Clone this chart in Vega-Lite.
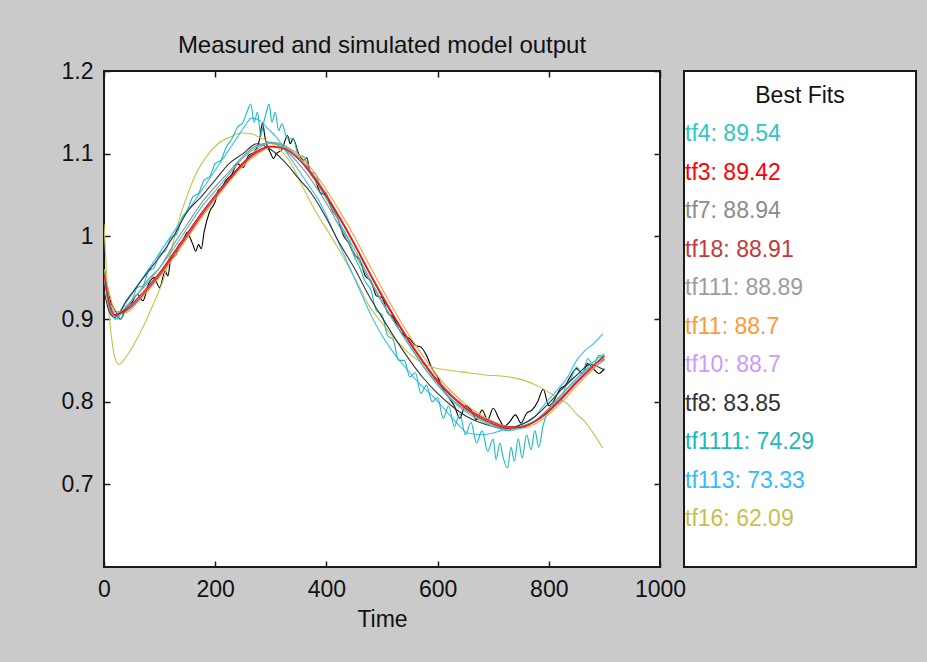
{
"$schema": "https://vega.github.io/schema/vega-lite/v6.json",
"background": "#cacaca",
"padding": {"left": 60, "top": 33, "right": 11, "bottom": 40},
"bounds": "flush",
"spacing": 24,
"config": {
  "font": "Liberation Sans",
  "view": {"stroke": "#1a1a1a", "strokeWidth": 2, "fill": "#ffffff"},
  "axis": {"domain": false, "grid": false, "labelFont": "Liberation Sans", "labelFontSize": 23, "labelColor": "#111111", "tickColor": "#1a1a1a", "tickWidth": 1.5, "titleFont": "Liberation Sans", "titleFontSize": 23, "titleFontWeight": "normal", "titleColor": "#111111", "labelFlush": false, "labelOverlap": false},
  "title": {"font": "Liberation Sans", "fontSize": 24, "fontWeight": "normal", "color": "#111111"}
},
"datasets": {
"lines": [
{"s":"measured","t":0,"v":0.965},{"s":"measured","t":5,"v":0.94},{"s":"measured","t":10,"v":0.925},{"s":"measured","t":20,"v":0.91},{"s":"measured","t":30,"v":0.9},{"s":"measured","t":40,"v":0.915},{"s":"measured","t":50,"v":0.92},{"s":"measured","t":60,"v":0.93},{"s":"measured","t":70,"v":0.922},{"s":"measured","t":80,"v":0.942},{"s":"measured","t":90,"v":0.95},{"s":"measured","t":100,"v":0.938},{"s":"measured","t":110,"v":0.958},{"s":"measured","t":115,"v":0.952},{"s":"measured","t":120,"v":0.972},{"s":"measured","t":130,"v":0.978},{"s":"measured","t":135,"v":0.99},{"s":"measured","t":140,"v":0.992},{"s":"measured","t":150,"v":1.005},{"s":"measured","t":155,"v":0.998},{"s":"measured","t":160,"v":0.99},{"s":"measured","t":165,"v":0.982},{"s":"measured","t":170,"v":0.99},{"s":"measured","t":175,"v":0.985},{"s":"measured","t":180,"v":1.005},{"s":"measured","t":190,"v":1.03},{"s":"measured","t":200,"v":1.042},{"s":"measured","t":205,"v":1.055},{"s":"measured","t":210,"v":1.058},{"s":"measured","t":220,"v":1.068},{"s":"measured","t":230,"v":1.075},{"s":"measured","t":240,"v":1.088},{"s":"measured","t":250,"v":1.083},{"s":"measured","t":260,"v":1.098},{"s":"measured","t":270,"v":1.102},{"s":"measured","t":280,"v":1.118},{"s":"measured","t":285,"v":1.137},{"s":"measured","t":290,"v":1.118},{"s":"measured","t":300,"v":1.1},{"s":"measured","t":305,"v":1.094},{"s":"measured","t":310,"v":1.1},{"s":"measured","t":320,"v":1.105},{"s":"measured","t":330,"v":1.122},{"s":"measured","t":335,"v":1.112},{"s":"measured","t":340,"v":1.118},{"s":"measured","t":350,"v":1.1},{"s":"measured","t":360,"v":1.092},{"s":"measured","t":365,"v":1.095},{"s":"measured","t":370,"v":1.078},{"s":"measured","t":380,"v":1.068},{"s":"measured","t":390,"v":1.052},{"s":"measured","t":400,"v":1.05},{"s":"measured","t":410,"v":1.032},{"s":"measured","t":420,"v":1.022},{"s":"measured","t":430,"v":1.002},{"s":"measured","t":440,"v":0.992},{"s":"measured","t":450,"v":0.978},{"s":"measured","t":460,"v":0.972},{"s":"measured","t":470,"v":0.952},{"s":"measured","t":480,"v":0.946},{"s":"measured","t":490,"v":0.928},{"s":"measured","t":500,"v":0.926},{"s":"measured","t":510,"v":0.908},{"s":"measured","t":520,"v":0.902},{"s":"measured","t":530,"v":0.888},{"s":"measured","t":540,"v":0.88},{"s":"measured","t":550,"v":0.876},{"s":"measured","t":560,"v":0.868},{"s":"measured","t":570,"v":0.866},{"s":"measured","t":580,"v":0.856},{"s":"measured","t":590,"v":0.84},{"s":"measured","t":600,"v":0.83},{"s":"measured","t":610,"v":0.815},{"s":"measured","t":620,"v":0.805},{"s":"measured","t":630,"v":0.795},{"s":"measured","t":640,"v":0.78},{"s":"measured","t":650,"v":0.795},{"s":"measured","t":660,"v":0.79},{"s":"measured","t":670,"v":0.778},{"s":"measured","t":680,"v":0.79},{"s":"measured","t":690,"v":0.778},{"s":"measured","t":700,"v":0.792},{"s":"measured","t":710,"v":0.78},{"s":"measured","t":720,"v":0.77},{"s":"measured","t":730,"v":0.776},{"s":"measured","t":740,"v":0.784},{"s":"measured","t":750,"v":0.774},{"s":"measured","t":760,"v":0.786},{"s":"measured","t":770,"v":0.79},{"s":"measured","t":780,"v":0.8},{"s":"measured","t":790,"v":0.815},{"s":"measured","t":800,"v":0.795},{"s":"measured","t":810,"v":0.802},{"s":"measured","t":820,"v":0.815},{"s":"measured","t":830,"v":0.82},{"s":"measured","t":840,"v":0.832},{"s":"measured","t":850,"v":0.84},{"s":"measured","t":860,"v":0.834},{"s":"measured","t":870,"v":0.846},{"s":"measured","t":880,"v":0.84},{"s":"measured","t":890,"v":0.834},{"s":"measured","t":900,"v":0.84},

{"s":"tf16","t":0,"v":1.015},{"s":"tf16","t":5,"v":0.95},{"s":"tf16","t":10,"v":0.9},{"s":"tf16","t":15,"v":0.87},{"s":"tf16","t":20,"v":0.852},{"s":"tf16","t":27,"v":0.845},{"s":"tf16","t":35,"v":0.85},{"s":"tf16","t":50,"v":0.865},{"s":"tf16","t":70,"v":0.89},{"s":"tf16","t":90,"v":0.92},{"s":"tf16","t":108,"v":0.95},{"s":"tf16","t":120,"v":0.98},{"s":"tf16","t":135,"v":1.02},{"s":"tf16","t":150,"v":1.05},{"s":"tf16","t":165,"v":1.075},{"s":"tf16","t":185,"v":1.097},{"s":"tf16","t":205,"v":1.112},{"s":"tf16","t":230,"v":1.121},{"s":"tf16","t":246,"v":1.125},{"s":"tf16","t":264,"v":1.124},{"s":"tf16","t":285,"v":1.118},{"s":"tf16","t":310,"v":1.108},{"s":"tf16","t":331,"v":1.094},{"s":"tf16","t":350,"v":1.07},{"s":"tf16","t":367,"v":1.047},{"s":"tf16","t":385,"v":1.025},{"s":"tf16","t":403,"v":1.006},{"s":"tf16","t":430,"v":0.975},{"s":"tf16","t":457,"v":0.942},{"s":"tf16","t":475,"v":0.918},{"s":"tf16","t":500,"v":0.895},{"s":"tf16","t":520,"v":0.878},{"s":"tf16","t":534,"v":0.868},{"s":"tf16","t":560,"v":0.852},{"s":"tf16","t":594,"v":0.841},{"s":"tf16","t":620,"v":0.838},{"s":"tf16","t":654,"v":0.835},{"s":"tf16","t":690,"v":0.832},{"s":"tf16","t":714,"v":0.831},{"s":"tf16","t":750,"v":0.827},{"s":"tf16","t":786,"v":0.817},{"s":"tf16","t":810,"v":0.807},{"s":"tf16","t":834,"v":0.797},{"s":"tf16","t":850,"v":0.785},{"s":"tf16","t":863,"v":0.777},{"s":"tf16","t":880,"v":0.762},{"s":"tf16","t":897,"v":0.744},

{"s":"tf113","t":0,"v":0.955},{"s":"tf113","t":10,"v":0.915},{"s":"tf113","t":20,"v":0.905},{"s":"tf113","t":30,"v":0.91},{"s":"tf113","t":40,"v":0.92},{"s":"tf113","t":60,"v":0.94},{"s":"tf113","t":80,"v":0.96},{"s":"tf113","t":100,"v":0.98},{"s":"tf113","t":120,"v":1.0},{"s":"tf113","t":140,"v":1.02},{"s":"tf113","t":160,"v":1.04},{"s":"tf113","t":180,"v":1.06},{"s":"tf113","t":200,"v":1.08},{"s":"tf113","t":220,"v":1.1},{"s":"tf113","t":240,"v":1.12},{"s":"tf113","t":255,"v":1.135},{"s":"tf113","t":265,"v":1.143},{"s":"tf113","t":280,"v":1.14},{"s":"tf113","t":295,"v":1.13},{"s":"tf113","t":310,"v":1.12},{"s":"tf113","t":330,"v":1.1},{"s":"tf113","t":350,"v":1.08},{"s":"tf113","t":370,"v":1.06},{"s":"tf113","t":385,"v":1.045},{"s":"tf113","t":400,"v":1.025},{"s":"tf113","t":420,"v":0.995},{"s":"tf113","t":440,"v":0.965},{"s":"tf113","t":460,"v":0.935},{"s":"tf113","t":480,"v":0.905},{"s":"tf113","t":500,"v":0.88},{"s":"tf113","t":520,"v":0.86},{"s":"tf113","t":534,"v":0.848},{"s":"tf113","t":550,"v":0.835},{"s":"tf113","t":570,"v":0.82},{"s":"tf113","t":594,"v":0.805},{"s":"tf113","t":620,"v":0.785},{"s":"tf113","t":640,"v":0.77},{"s":"tf113","t":654,"v":0.762},{"s":"tf113","t":680,"v":0.76},{"s":"tf113","t":700,"v":0.762},{"s":"tf113","t":714,"v":0.765},{"s":"tf113","t":740,"v":0.77},{"s":"tf113","t":760,"v":0.775},{"s":"tf113","t":773,"v":0.78},{"s":"tf113","t":790,"v":0.795},{"s":"tf113","t":810,"v":0.81},{"s":"tf113","t":834,"v":0.83},{"s":"tf113","t":850,"v":0.85},{"s":"tf113","t":864,"v":0.861},{"s":"tf113","t":880,"v":0.87},{"s":"tf113","t":897,"v":0.882},

{"s":"tf1111","t":0,"v":0.96},{"s":"tf1111","t":10,"v":0.92},{"s":"tf1111","t":20,"v":0.9},{"s":"tf1111","t":30,"v":0.9},{"s":"tf1111","t":40,"v":0.912},{"s":"tf1111","t":50,"v":0.922},{"s":"tf1111","t":60,"v":0.938},{"s":"tf1111","t":70,"v":0.94},{"s":"tf1111","t":80,"v":0.958},{"s":"tf1111","t":90,"v":0.962},{"s":"tf1111","t":100,"v":0.978},{"s":"tf1111","t":110,"v":0.982},{"s":"tf1111","t":120,"v":0.998},{"s":"tf1111","t":130,"v":1.002},{"s":"tf1111","t":140,"v":1.022},{"s":"tf1111","t":150,"v":1.032},{"s":"tf1111","t":160,"v":1.048},{"s":"tf1111","t":170,"v":1.052},{"s":"tf1111","t":180,"v":1.068},{"s":"tf1111","t":190,"v":1.072},{"s":"tf1111","t":200,"v":1.088},{"s":"tf1111","t":210,"v":1.092},{"s":"tf1111","t":220,"v":1.108},{"s":"tf1111","t":230,"v":1.118},{"s":"tf1111","t":240,"v":1.132},{"s":"tf1111","t":250,"v":1.138},{"s":"tf1111","t":258,"v":1.152},{"s":"tf1111","t":264,"v":1.16},{"s":"tf1111","t":270,"v":1.138},{"s":"tf1111","t":276,"v":1.15},{"s":"tf1111","t":282,"v":1.122},{"s":"tf1111","t":288,"v":1.14},{"s":"tf1111","t":292,"v":1.15},{"s":"tf1111","t":297,"v":1.16},{"s":"tf1111","t":302,"v":1.138},{"s":"tf1111","t":308,"v":1.15},{"s":"tf1111","t":314,"v":1.128},{"s":"tf1111","t":320,"v":1.136},{"s":"tf1111","t":330,"v":1.118},{"s":"tf1111","t":340,"v":1.118},{"s":"tf1111","t":350,"v":1.098},{"s":"tf1111","t":360,"v":1.096},{"s":"tf1111","t":370,"v":1.078},{"s":"tf1111","t":380,"v":1.076},{"s":"tf1111","t":390,"v":1.058},{"s":"tf1111","t":400,"v":1.052},{"s":"tf1111","t":410,"v":1.036},{"s":"tf1111","t":420,"v":1.022},{"s":"tf1111","t":430,"v":1.006},{"s":"tf1111","t":440,"v":0.996},{"s":"tf1111","t":450,"v":0.976},{"s":"tf1111","t":460,"v":0.962},{"s":"tf1111","t":470,"v":0.945},{"s":"tf1111","t":480,"v":0.935},{"s":"tf1111","t":490,"v":0.91},{"s":"tf1111","t":500,"v":0.905},{"s":"tf1111","t":510,"v":0.88},{"s":"tf1111","t":520,"v":0.875},{"s":"tf1111","t":530,"v":0.85},{"s":"tf1111","t":540,"v":0.85},{"s":"tf1111","t":550,"v":0.83},{"s":"tf1111","t":560,"v":0.835},{"s":"tf1111","t":570,"v":0.81},{"s":"tf1111","t":580,"v":0.82},{"s":"tf1111","t":590,"v":0.8},{"s":"tf1111","t":600,"v":0.805},{"s":"tf1111","t":610,"v":0.78},{"s":"tf1111","t":620,"v":0.795},{"s":"tf1111","t":630,"v":0.77},{"s":"tf1111","t":640,"v":0.785},{"s":"tf1111","t":650,"v":0.76},{"s":"tf1111","t":660,"v":0.775},{"s":"tf1111","t":670,"v":0.75},{"s":"tf1111","t":680,"v":0.765},{"s":"tf1111","t":690,"v":0.74},{"s":"tf1111","t":700,"v":0.755},{"s":"tf1111","t":705,"v":0.73},{"s":"tf1111","t":712,"v":0.75},{"s":"tf1111","t":718,"v":0.732},{"s":"tf1111","t":726,"v":0.72},{"s":"tf1111","t":732,"v":0.745},{"s":"tf1111","t":738,"v":0.728},{"s":"tf1111","t":745,"v":0.755},{"s":"tf1111","t":752,"v":0.732},{"s":"tf1111","t":760,"v":0.76},{"s":"tf1111","t":768,"v":0.742},{"s":"tf1111","t":775,"v":0.765},{"s":"tf1111","t":782,"v":0.745},{"s":"tf1111","t":790,"v":0.772},{"s":"tf1111","t":800,"v":0.79},{"s":"tf1111","t":810,"v":0.8},{"s":"tf1111","t":820,"v":0.798},{"s":"tf1111","t":830,"v":0.818},{"s":"tf1111","t":840,"v":0.828},{"s":"tf1111","t":850,"v":0.842},{"s":"tf1111","t":860,"v":0.834},{"s":"tf1111","t":870,"v":0.852},{"s":"tf1111","t":880,"v":0.844},{"s":"tf1111","t":890,"v":0.856},{"s":"tf1111","t":900,"v":0.85},

{"s":"tf8","t":0,"v":0.935},{"s":"tf8","t":10,"v":0.908},{"s":"tf8","t":20,"v":0.902},{"s":"tf8","t":40,"v":0.922},{"s":"tf8","t":60,"v":0.94},{"s":"tf8","t":80,"v":0.958},{"s":"tf8","t":100,"v":0.975},{"s":"tf8","t":125,"v":1.0},{"s":"tf8","t":150,"v":1.03},{"s":"tf8","t":175,"v":1.048},{"s":"tf8","t":200,"v":1.068},{"s":"tf8","t":225,"v":1.088},{"s":"tf8","t":250,"v":1.1},{"s":"tf8","t":275,"v":1.112},{"s":"tf8","t":300,"v":1.105},{"s":"tf8","t":325,"v":1.09},{"s":"tf8","t":350,"v":1.07},{"s":"tf8","t":375,"v":1.05},{"s":"tf8","t":400,"v":1.022},{"s":"tf8","t":425,"v":0.99},{"s":"tf8","t":450,"v":0.962},{"s":"tf8","t":475,"v":0.93},{"s":"tf8","t":500,"v":0.902},{"s":"tf8","t":525,"v":0.875},{"s":"tf8","t":550,"v":0.85},{"s":"tf8","t":575,"v":0.828},{"s":"tf8","t":600,"v":0.81},{"s":"tf8","t":625,"v":0.795},{"s":"tf8","t":650,"v":0.783},{"s":"tf8","t":675,"v":0.775},{"s":"tf8","t":700,"v":0.77},{"s":"tf8","t":725,"v":0.768},{"s":"tf8","t":750,"v":0.772},{"s":"tf8","t":775,"v":0.782},{"s":"tf8","t":800,"v":0.798},{"s":"tf8","t":825,"v":0.816},{"s":"tf8","t":850,"v":0.832},{"s":"tf8","t":875,"v":0.845},{"s":"tf8","t":900,"v":0.838},

{"s":"tf10","t":0,"v":0.955},{"s":"tf10","t":10,"v":0.917},{"s":"tf10","t":20,"v":0.905},{"s":"tf10","t":40,"v":0.911},{"s":"tf10","t":60,"v":0.924},{"s":"tf10","t":80,"v":0.939},{"s":"tf10","t":100,"v":0.955},{"s":"tf10","t":125,"v":0.979},{"s":"tf10","t":150,"v":1.003},{"s":"tf10","t":175,"v":1.027},{"s":"tf10","t":200,"v":1.049},{"s":"tf10","t":225,"v":1.069},{"s":"tf10","t":250,"v":1.088},{"s":"tf10","t":275,"v":1.102},{"s":"tf10","t":300,"v":1.109},{"s":"tf10","t":325,"v":1.106},{"s":"tf10","t":350,"v":1.094},{"s":"tf10","t":375,"v":1.074},{"s":"tf10","t":400,"v":1.049},{"s":"tf10","t":425,"v":1.021},{"s":"tf10","t":450,"v":0.991},{"s":"tf10","t":475,"v":0.959},{"s":"tf10","t":500,"v":0.928},{"s":"tf10","t":525,"v":0.899},{"s":"tf10","t":550,"v":0.872},{"s":"tf10","t":575,"v":0.847},{"s":"tf10","t":600,"v":0.825},{"s":"tf10","t":625,"v":0.807},{"s":"tf10","t":650,"v":0.793},{"s":"tf10","t":675,"v":0.782},{"s":"tf10","t":700,"v":0.774},{"s":"tf10","t":725,"v":0.769},{"s":"tf10","t":750,"v":0.77},{"s":"tf10","t":775,"v":0.777},{"s":"tf10","t":800,"v":0.79},{"s":"tf10","t":825,"v":0.807},{"s":"tf10","t":850,"v":0.825},{"s":"tf10","t":875,"v":0.841},{"s":"tf10","t":900,"v":0.855},

{"s":"tf11","t":0,"v":0.96},{"s":"tf11","t":10,"v":0.93},{"s":"tf11","t":20,"v":0.91},{"s":"tf11","t":40,"v":0.908},{"s":"tf11","t":60,"v":0.92},{"s":"tf11","t":80,"v":0.935},{"s":"tf11","t":100,"v":0.951},{"s":"tf11","t":125,"v":0.974},{"s":"tf11","t":150,"v":0.998},{"s":"tf11","t":175,"v":1.022},{"s":"tf11","t":200,"v":1.045},{"s":"tf11","t":225,"v":1.066},{"s":"tf11","t":250,"v":1.085},{"s":"tf11","t":275,"v":1.099},{"s":"tf11","t":300,"v":1.108},{"s":"tf11","t":325,"v":1.108},{"s":"tf11","t":350,"v":1.099},{"s":"tf11","t":375,"v":1.08},{"s":"tf11","t":400,"v":1.056},{"s":"tf11","t":425,"v":1.029},{"s":"tf11","t":450,"v":1.0},{"s":"tf11","t":475,"v":0.968},{"s":"tf11","t":500,"v":0.937},{"s":"tf11","t":525,"v":0.907},{"s":"tf11","t":550,"v":0.879},{"s":"tf11","t":575,"v":0.854},{"s":"tf11","t":600,"v":0.831},{"s":"tf11","t":625,"v":0.812},{"s":"tf11","t":650,"v":0.797},{"s":"tf11","t":675,"v":0.785},{"s":"tf11","t":700,"v":0.776},{"s":"tf11","t":725,"v":0.77},{"s":"tf11","t":750,"v":0.768},{"s":"tf11","t":775,"v":0.773},{"s":"tf11","t":800,"v":0.785},{"s":"tf11","t":825,"v":0.801},{"s":"tf11","t":850,"v":0.819},{"s":"tf11","t":875,"v":0.836},{"s":"tf11","t":900,"v":0.852},

{"s":"tf111","t":0,"v":0.96},{"s":"tf111","t":10,"v":0.92},{"s":"tf111","t":20,"v":0.908},{"s":"tf111","t":40,"v":0.91},{"s":"tf111","t":60,"v":0.922},{"s":"tf111","t":80,"v":0.938},{"s":"tf111","t":100,"v":0.953},{"s":"tf111","t":125,"v":0.978},{"s":"tf111","t":150,"v":1.0},{"s":"tf111","t":175,"v":1.025},{"s":"tf111","t":200,"v":1.048},{"s":"tf111","t":225,"v":1.068},{"s":"tf111","t":250,"v":1.088},{"s":"tf111","t":275,"v":1.105},{"s":"tf111","t":300,"v":1.114},{"s":"tf111","t":325,"v":1.11},{"s":"tf111","t":350,"v":1.096},{"s":"tf111","t":375,"v":1.076},{"s":"tf111","t":400,"v":1.05},{"s":"tf111","t":425,"v":1.022},{"s":"tf111","t":450,"v":0.992},{"s":"tf111","t":475,"v":0.96},{"s":"tf111","t":500,"v":0.93},{"s":"tf111","t":525,"v":0.9},{"s":"tf111","t":550,"v":0.873},{"s":"tf111","t":575,"v":0.848},{"s":"tf111","t":600,"v":0.826},{"s":"tf111","t":625,"v":0.808},{"s":"tf111","t":650,"v":0.793},{"s":"tf111","t":675,"v":0.782},{"s":"tf111","t":700,"v":0.775},{"s":"tf111","t":725,"v":0.77},{"s":"tf111","t":750,"v":0.77},{"s":"tf111","t":775,"v":0.776},{"s":"tf111","t":800,"v":0.788},{"s":"tf111","t":825,"v":0.804},{"s":"tf111","t":850,"v":0.822},{"s":"tf111","t":875,"v":0.838},{"s":"tf111","t":900,"v":0.85},

{"s":"tf18","t":0,"v":0.952},{"s":"tf18","t":10,"v":0.915},{"s":"tf18","t":20,"v":0.904},{"s":"tf18","t":40,"v":0.91},{"s":"tf18","t":60,"v":0.922},{"s":"tf18","t":80,"v":0.937},{"s":"tf18","t":100,"v":0.953},{"s":"tf18","t":125,"v":0.977},{"s":"tf18","t":150,"v":1.001},{"s":"tf18","t":175,"v":1.025},{"s":"tf18","t":200,"v":1.047},{"s":"tf18","t":225,"v":1.068},{"s":"tf18","t":250,"v":1.087},{"s":"tf18","t":275,"v":1.101},{"s":"tf18","t":300,"v":1.108},{"s":"tf18","t":325,"v":1.106},{"s":"tf18","t":350,"v":1.094},{"s":"tf18","t":375,"v":1.075},{"s":"tf18","t":400,"v":1.05},{"s":"tf18","t":425,"v":1.022},{"s":"tf18","t":450,"v":0.992},{"s":"tf18","t":475,"v":0.96},{"s":"tf18","t":500,"v":0.929},{"s":"tf18","t":525,"v":0.9},{"s":"tf18","t":550,"v":0.873},{"s":"tf18","t":575,"v":0.848},{"s":"tf18","t":600,"v":0.826},{"s":"tf18","t":625,"v":0.808},{"s":"tf18","t":650,"v":0.794},{"s":"tf18","t":675,"v":0.783},{"s":"tf18","t":700,"v":0.775},{"s":"tf18","t":725,"v":0.77},{"s":"tf18","t":750,"v":0.77},{"s":"tf18","t":775,"v":0.776},{"s":"tf18","t":800,"v":0.788},{"s":"tf18","t":825,"v":0.805},{"s":"tf18","t":850,"v":0.823},{"s":"tf18","t":875,"v":0.84},{"s":"tf18","t":900,"v":0.856},

{"s":"tf7","t":0,"v":0.95},{"s":"tf7","t":10,"v":0.912},{"s":"tf7","t":20,"v":0.903},{"s":"tf7","t":40,"v":0.915},{"s":"tf7","t":60,"v":0.93},{"s":"tf7","t":80,"v":0.948},{"s":"tf7","t":100,"v":0.962},{"s":"tf7","t":125,"v":0.99},{"s":"tf7","t":150,"v":1.015},{"s":"tf7","t":175,"v":1.04},{"s":"tf7","t":200,"v":1.06},{"s":"tf7","t":225,"v":1.078},{"s":"tf7","t":250,"v":1.097},{"s":"tf7","t":275,"v":1.11},{"s":"tf7","t":300,"v":1.113},{"s":"tf7","t":325,"v":1.105},{"s":"tf7","t":350,"v":1.088},{"s":"tf7","t":375,"v":1.066},{"s":"tf7","t":400,"v":1.04},{"s":"tf7","t":425,"v":1.01},{"s":"tf7","t":450,"v":0.98},{"s":"tf7","t":475,"v":0.95},{"s":"tf7","t":500,"v":0.92},{"s":"tf7","t":525,"v":0.893},{"s":"tf7","t":550,"v":0.868},{"s":"tf7","t":575,"v":0.842},{"s":"tf7","t":600,"v":0.822},{"s":"tf7","t":625,"v":0.803},{"s":"tf7","t":650,"v":0.79},{"s":"tf7","t":675,"v":0.78},{"s":"tf7","t":700,"v":0.772},{"s":"tf7","t":725,"v":0.766},{"s":"tf7","t":750,"v":0.77},{"s":"tf7","t":775,"v":0.777},{"s":"tf7","t":800,"v":0.792},{"s":"tf7","t":825,"v":0.81},{"s":"tf7","t":850,"v":0.828},{"s":"tf7","t":875,"v":0.842},{"s":"tf7","t":900,"v":0.852},

{"s":"tf4","t":0,"v":0.96},{"s":"tf4","t":10,"v":0.92},{"s":"tf4","t":20,"v":0.9},{"s":"tf4","t":40,"v":0.915},{"s":"tf4","t":60,"v":0.93},{"s":"tf4","t":80,"v":0.945},{"s":"tf4","t":100,"v":0.962},{"s":"tf4","t":125,"v":0.985},{"s":"tf4","t":150,"v":1.01},{"s":"tf4","t":175,"v":1.035},{"s":"tf4","t":200,"v":1.055},{"s":"tf4","t":225,"v":1.075},{"s":"tf4","t":250,"v":1.095},{"s":"tf4","t":275,"v":1.108},{"s":"tf4","t":300,"v":1.113},{"s":"tf4","t":325,"v":1.108},{"s":"tf4","t":350,"v":1.095},{"s":"tf4","t":375,"v":1.072},{"s":"tf4","t":400,"v":1.045},{"s":"tf4","t":425,"v":1.015},{"s":"tf4","t":450,"v":0.985},{"s":"tf4","t":475,"v":0.953},{"s":"tf4","t":500,"v":0.922},{"s":"tf4","t":525,"v":0.893},{"s":"tf4","t":550,"v":0.867},{"s":"tf4","t":575,"v":0.842},{"s":"tf4","t":600,"v":0.82},{"s":"tf4","t":625,"v":0.802},{"s":"tf4","t":650,"v":0.788},{"s":"tf4","t":675,"v":0.778},{"s":"tf4","t":700,"v":0.77},{"s":"tf4","t":725,"v":0.765},{"s":"tf4","t":750,"v":0.768},{"s":"tf4","t":775,"v":0.776},{"s":"tf4","t":800,"v":0.79},{"s":"tf4","t":825,"v":0.81},{"s":"tf4","t":850,"v":0.828},{"s":"tf4","t":875,"v":0.845},{"s":"tf4","t":900,"v":0.858},

{"s":"tf3","t":0,"v":0.955},{"s":"tf3","t":10,"v":0.918},{"s":"tf3","t":20,"v":0.905},{"s":"tf3","t":40,"v":0.912},{"s":"tf3","t":60,"v":0.925},{"s":"tf3","t":80,"v":0.94},{"s":"tf3","t":100,"v":0.956},{"s":"tf3","t":125,"v":0.98},{"s":"tf3","t":150,"v":1.004},{"s":"tf3","t":175,"v":1.028},{"s":"tf3","t":200,"v":1.05},{"s":"tf3","t":225,"v":1.07},{"s":"tf3","t":250,"v":1.089},{"s":"tf3","t":275,"v":1.103},{"s":"tf3","t":300,"v":1.109},{"s":"tf3","t":325,"v":1.106},{"s":"tf3","t":350,"v":1.093},{"s":"tf3","t":375,"v":1.073},{"s":"tf3","t":400,"v":1.048},{"s":"tf3","t":425,"v":1.02},{"s":"tf3","t":450,"v":0.99},{"s":"tf3","t":475,"v":0.958},{"s":"tf3","t":500,"v":0.927},{"s":"tf3","t":525,"v":0.898},{"s":"tf3","t":550,"v":0.871},{"s":"tf3","t":575,"v":0.846},{"s":"tf3","t":600,"v":0.824},{"s":"tf3","t":625,"v":0.806},{"s":"tf3","t":650,"v":0.792},{"s":"tf3","t":675,"v":0.781},{"s":"tf3","t":700,"v":0.773},{"s":"tf3","t":725,"v":0.768},{"s":"tf3","t":750,"v":0.769},{"s":"tf3","t":775,"v":0.776},{"s":"tf3","t":800,"v":0.789},{"s":"tf3","t":825,"v":0.806},{"s":"tf3","t":850,"v":0.824},{"s":"tf3","t":875,"v":0.84},{"s":"tf3","t":900,"v":0.855}
],
"fits": [
{"s":"header","label":"Best Fits","i":0},
{"s":"tf4","label":"tf4: 89.54","i":1},
{"s":"tf3","label":"tf3: 89.42","i":2},
{"s":"tf7","label":"tf7: 88.94","i":3},
{"s":"tf18","label":"tf18: 88.91","i":4},
{"s":"tf111","label":"tf111: 88.89","i":5},
{"s":"tf11","label":"tf11: 88.7","i":6},
{"s":"tf10","label":"tf10: 88.7","i":7},
{"s":"tf8","label":"tf8: 83.85","i":8},
{"s":"tf1111","label":"tf1111: 74.29","i":9},
{"s":"tf113","label":"tf113: 73.33","i":10},
{"s":"tf16","label":"tf16: 62.09","i":11}
]
},
"hconcat": [
{
  "width": 556,
  "height": 496,
  "title": {"text": "Measured and simulated model output", "offset": 2},
  "data": {"name": "lines"},
  "resolve": {"axis": {"x": "independent", "y": "independent"}},
  "layer": [
    {
      "transform": [{"filter": "datum.s !== 'tf3'"}],
      "mark": {"type": "line", "strokeWidth": 1.1, "interpolate": "monotone", "clip": true},
      "encoding": {
        "x": {"field": "t", "type": "quantitative", "scale": {"domain": [0, 1000], "nice": false, "zero": false},
              "axis": {"orient": "bottom", "values": [0, 200, 400, 600, 800, 1000], "format": "d", "offset": -6, "tickSize": 6, "labelPadding": 11, "title": "Time", "titlePadding": 7}},
        "y": {"field": "v", "type": "quantitative", "scale": {"domain": [0.6, 1.2], "nice": false, "zero": false},
              "axis": {"orient": "left", "values": [0.7, 0.8, 0.9, 1, 1.1, 1.2], "format": "~g", "offset": -6, "tickSize": 6, "labelPadding": 11, "title": null}},
        "color": {"field": "s", "type": "nominal", "legend": null,
          "scale": {"domain": ["measured","tf4","tf3","tf7","tf18","tf111","tf11","tf10","tf8","tf1111","tf113","tf16","header"],
                    "range": ["#000000","#33c4c8","#ff0000","#8c8c8c","#c03a3a","#9c9c9c","#ff9933","#cc99ff","#333333","#1fb8b8","#33bbff","#c8c048","#111111"]}}
      }
    },
    {
      "transform": [{"filter": "datum.s === 'tf3'"}],
      "mark": {"type": "line", "strokeWidth": 1.1, "interpolate": "monotone", "clip": true},
      "encoding": {
        "x": {"field": "t", "type": "quantitative",
              "axis": {"orient": "top", "values": [0, 200, 400, 600, 800, 1000], "labels": false, "offset": -6, "tickSize": 6, "title": null}},
        "y": {"field": "v", "type": "quantitative",
              "axis": {"orient": "right", "values": [0.7, 0.8, 0.9, 1, 1.1, 1.2], "labels": false, "offset": -6, "tickSize": 6, "title": null}},
        "color": {"field": "s", "type": "nominal", "legend": null}
      }
    }
  ]
},
{
  "width": 232,
  "height": 496,
  "data": {"name": "fits"},
  "layer": [
    {
      "transform": [{"filter": "datum.s === 'header'"}],
      "mark": {"type": "text", "align": "center", "baseline": "middle", "fontSize": 23, "font": "Liberation Sans", "color": "#111111"},
      "encoding": {
        "x": {"datum": 0.5, "type": "quantitative", "scale": {"domain": [0, 1]}, "axis": null},
        "y": {"field": "i", "type": "quantitative", "scale": {"domain": [-0.649, 12.234], "reverse": true, "nice": false, "zero": false}, "axis": null},
        "text": {"field": "label"}
      }
    },
    {
      "transform": [{"filter": "datum.s !== 'header'"}],
      "mark": {"type": "text", "align": "left", "baseline": "middle", "fontSize": 23, "font": "Liberation Sans", "dx": 1},
      "encoding": {
        "x": {"datum": 0, "type": "quantitative", "axis": null},
        "y": {"field": "i", "type": "quantitative", "axis": null},
        "text": {"field": "label"},
        "color": {"field": "s", "type": "nominal", "legend": null,
          "scale": {"domain": ["measured","tf4","tf3","tf7","tf18","tf111","tf11","tf10","tf8","tf1111","tf113","tf16","header"],
                    "range": ["#000000","#33c4c8","#ff0000","#8c8c8c","#c03a3a","#9c9c9c","#ff9933","#cc99ff","#333333","#1fb8b8","#33bbff","#c8c048","#111111"]}}
      }
    }
  ]
}
]
}
